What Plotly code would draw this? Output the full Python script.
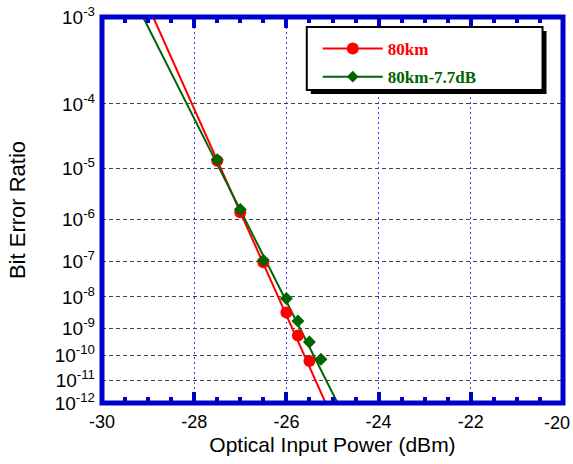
import math
import plotly.graph_objects as go

# ---------------- data ----------------
power_80km = [-27.5, -27.0, -26.5, -26.0, -25.75, -25.5]
ber_80km = [1.35e-5, 1.4e-6, 9.3e-8, 3.3e-9, 5.6e-10, 6.3e-11]

power_80km_77 = [-27.5, -27.0, -26.5, -26.0, -25.75, -25.5, -25.25]
ber_80km_77 = [1.4e-5, 1.6e-6, 1.05e-7, 9e-9, 1.75e-9, 3.3e-10, 7.4e-11]

# fitted straight lines (endpoints read where they meet the frame)
fit_power_80km = [-28.89, -25.15]
fit_ber_80km = [1e-3, 1e-12]
fit_power_80km_77 = [-29.11, -24.89]
fit_ber_80km_77 = [1e-3, 1e-12]

ber_ticks = [1e-3, 1e-4, 1e-5, 1e-6, 1e-7, 1e-8, 1e-9, 1e-10, 1e-11, 1e-12]
ber_tick_text = ["10<sup>-%d</sup>" % n for n in range(3, 13)]
x_ticks = [-30, -28, -26, -24, -22, -20]
x_tick_text = ["-30", "-28", "-26", "-24", "-22", ""]
x_last_label = "-20"

names = ["80km", "80km-7.7dB"]
RED = "#ff0000"
GREEN = "#006400"
BLUE = "#0000cc"


def q_of_ber(b):
    """Q factor such that 0.5*erfc(Q/sqrt2) = BER (bisection)."""
    lo, hi = 0.0, 20.0
    for _ in range(200):
        mid = 0.5 * (lo + hi)
        if 0.5 * math.erfc(mid / math.sqrt(2)) > b:
            lo = mid
        else:
            hi = mid
    return 0.5 * (lo + hi)


def qs(lst):
    return [q_of_ber(b) for b in lst]


fig = go.Figure()

# fitted lines
fig.add_trace(go.Scatter(x=fit_power_80km, y=qs(fit_ber_80km), mode="lines",
                         line=dict(color=RED, width=2), showlegend=False))
fig.add_trace(go.Scatter(x=fit_power_80km_77, y=qs(fit_ber_80km_77), mode="lines",
                         line=dict(color=GREEN, width=2), showlegend=False))
# measured points
fig.add_trace(go.Scatter(x=power_80km, y=qs(ber_80km), mode="markers",
                         marker=dict(symbol="circle", size=12, color=RED),
                         showlegend=False))
fig.add_trace(go.Scatter(x=power_80km_77, y=qs(ber_80km_77), mode="markers",
                         marker=dict(symbol="diamond", size=10, color=GREEN),
                         showlegend=False))
# legend entries
fig.add_trace(go.Scatter(x=[None], y=[None], mode="lines+markers",
                         line=dict(color=RED, width=2),
                         marker=dict(symbol="circle", size=12, color=RED),
                         name="<b><span style='color:%s'>%s</span></b>" % (RED, names[0]),
                         legendgroup="a"))
fig.add_trace(go.Scatter(x=[None], y=[None], mode="lines+markers",
                         line=dict(color=GREEN, width=2),
                         marker=dict(symbol="diamond", size=9, color=GREEN),
                         name="<b><span style='color:%s'>%s</span></b>" % (GREEN, names[1]),
                         legendgroup="b"))

qt = qs(ber_ticks)
ylo = math.log10(q_of_ber(1e-12))
yhi = math.log10(q_of_ber(1e-3))

W0, W1 = 102, 563.5
H0, H1 = 17, 403
pw = W1 - W0
ph = H1 - H0


def px(xp):
    return (xp - W0) / pw


def py(yp):
    return (H1 - yp) / ph


shapes = [
    # legend shadow
    dict(type="rect", xref="paper", yref="paper",
         x0=px(311), x1=px(547), y0=py(94), y1=py(31),
         fillcolor="black", line=dict(width=0), layer="above"),
    # legend box
    dict(type="rect", xref="paper", yref="paper",
         x0=px(307), x1=px(543), y0=py(90), y1=py(27),
         fillcolor="white", line=dict(color="black", width=2), layer="above"),
    # frame
    dict(type="rect", xref="paper", yref="paper", x0=0, x1=1, y0=0, y1=1,
         line=dict(color=BLUE, width=5), layer="above"),
]

annotations = [
    dict(x=-20, xref="x", y=0, yref="paper", text=x_last_label, showarrow=False,
         xanchor="right", yanchor="top", xshift=9, yshift=-8,
         font=dict(size=18, family="Liberation Sans, Arial, sans-serif")),
]

fig.update_layout(
    width=573, height=464,
    margin=dict(l=W0, r=573 - W1, t=H0, b=464 - H1, autoexpand=False),
    paper_bgcolor="white", plot_bgcolor="white",
    font=dict(family="Liberation Sans, Arial, sans-serif", color="black"),
    shapes=shapes,
    annotations=annotations,
    showlegend=True,
    legend=dict(x=px(318), y=py(31), xanchor="left", yanchor="top",
                bgcolor="rgba(0,0,0,0)", borderwidth=0,
                font=dict(family="Liberation Serif, serif", size=17),
                itemwidth=60, tracegroupgap=3),
    xaxis=dict(range=[-30, -20], tickvals=x_ticks, ticktext=x_tick_text,
               automargin=False,
               ticks="inside", ticklen=11, tickwidth=4, tickcolor=BLUE,
               mirror="ticks", showline=False, zeroline=False,
               showgrid=True, gridcolor="#3333ff", gridwidth=1, griddash="2px,3px",
               minor=dict(dtick=0.5, ticks="inside", ticklen=6, tickwidth=4,
                          tickcolor=BLUE, showgrid=False),
               tickfont=dict(size=18), ticklabelstandoff=6,
               title=dict(text="Optical Input Power (dBm)", font=dict(size=21), standoff=6)),
    yaxis=dict(type="log", range=[ylo, yhi], tickvals=qt, ticktext=ber_tick_text,
               automargin=False,
               ticks="", showline=False, zeroline=False,
               showgrid=True, gridcolor="#444444", gridwidth=1, griddash="4px,3px",
               tickfont=dict(size=19), ticklabelstandoff=6,
               title=dict(text="Bit Error Ratio", font=dict(size=22), standoff=22)),
)

fig.write_html("out.html", config={"displayModeBar": False},
               post_script="document.body.style.margin='0px';")
